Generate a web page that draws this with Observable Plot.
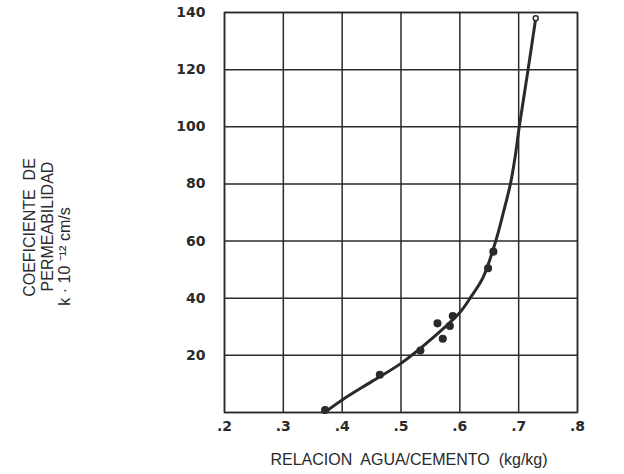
<!DOCTYPE html>
<html>
<head>
<meta charset="utf-8">
<script src="https://cdn.jsdelivr.net/npm/d3@7"></script>
<script src="https://cdn.jsdelivr.net/npm/@observablehq/plot@0.6"></script>
<style>
  html, body { margin: 0; padding: 0; background: #fff; }
  #chart svg { display: block; }
</style>
</head>
<body>
<div id="chart"></div>
<script>
// Measured points: water/cement ratio vs permeability coefficient
const ratioPts = [0.371, 0.464, 0.533, 0.562, 0.571, 0.583, 0.588, 0.648, 0.657];
const kPts     = [0.9,   13.2,  21.7,  31.2,  25.8,  30.3,  33.8,  50.5,  56.3];
// Top open marker
const ratioTop = [0.729];
const kTop     = [138];
// Fitted curve
const ratioCurve = [0.37, 0.40, 0.45, 0.50, 0.55, 0.60, 0.62, 0.64, 0.661, 0.674, 0.686, 0.694, 0.701, 0.716, 0.729];
const kCurve     = [0,    4.4,  10.8, 17.2, 25.4, 35,   40.8, 47.5, 60,    70,    80,    89.5,  100,   120,   138];
// Axis ticks
const xTicks = [0.2, 0.3, 0.4, 0.5, 0.6, 0.7, 0.8];
const yTicks = [20, 40, 60, 80, 100, 120, 140];
const xTitle = "RELACION  AGUA/CEMENTO  (kg/kg)";
const yTitle1 = "COEFICIENTE  DE";
const yTitle2 = "PERMEABILIDAD";
const yTitle3 = "k · 10 ⁻¹² cm/s";

const pts = ratioPts.map((r, i) => ({r, k: kPts[i]}));
const top1 = ratioTop.map((r, i) => ({r, k: kTop[i]}));
const curve = ratioCurve.map((r, i) => ({r, k: kCurve[i]}));

const ink = "#2a2a2a";
const titleFont = "Liberation Sans, Arial, sans-serif";
const narrowFont = "'Liberation Sans Narrow', 'Arial Narrow', sans-serif";

const chart = Plot.plot({
  width: 624,
  height: 474,
  marginLeft: 224,
  marginRight: 47,
  marginTop: 12,
  marginBottom: 62,
  style: {background: "#fff", color: ink},
  x: {domain: [0.2, 0.8], ticks: xTicks, tickFormat: d => "." + Math.round(d * 10)},
  y: {domain: [0, 140], ticks: yTicks},
  marks: [
    Plot.gridX(xTicks, {stroke: ink, strokeOpacity: 1, strokeWidth: 1.5}),
    Plot.gridY([0, ...yTicks], {stroke: ink, strokeOpacity: 1, strokeWidth: 1.5}),
    Plot.frame({stroke: ink, strokeWidth: 1.5}),
    Plot.axisX(xTicks, {tickSize: 0, tickPadding: 9, label: null, fontSize: 14, fontWeight: "bold",
      fontFamily: "DejaVu Sans, sans-serif", letterSpacing: "1px", fill: ink,
      tickFormat: d => "." + Math.round(d * 10)}),
    Plot.axisY(yTicks, {tickSize: 0, tickPadding: 19, label: null, fontSize: 14, fontWeight: "bold",
      fontFamily: "DejaVu Sans, sans-serif", letterSpacing: "2px", fill: ink}),
    Plot.line(curve, {x: "r", y: "k", curve: "catmull-rom", stroke: ink, strokeWidth: 3}),
    Plot.dot(pts, {x: "r", y: "k", r: 3.3, fill: ink, stroke: ink}),
    Plot.dot(top1, {x: "r", y: "k", r: 2.5, fill: "#fff", stroke: ink, strokeWidth: 1.5}),
    Plot.text([xTitle], {frameAnchor: "bottom", dx: 8, dy: 47, fontSize: 16, fontFamily: titleFont,
      fill: ink, letterSpacing: "0.9px", lineAnchor: "middle", textAnchor: "middle"}),
    Plot.text([yTitle1], {frameAnchor: "left", rotate: -90, dx: -195, dy: 15, fontSize: 16,
      fontFamily: narrowFont, fill: ink, lineAnchor: "middle", textAnchor: "middle"}),
    Plot.text([yTitle2], {frameAnchor: "left", rotate: -90, dx: -177, dy: 14, fontSize: 16,
      fontFamily: narrowFont, fill: ink, lineAnchor: "middle", textAnchor: "middle"}),
    Plot.text([yTitle3], {frameAnchor: "left", rotate: -90, dx: -160, dy: 44, fontSize: 16,
      fontFamily: narrowFont, fill: ink, lineAnchor: "middle", textAnchor: "middle"})
  ]
});
document.getElementById("chart").append(chart);
</script>
</body>
</html>
